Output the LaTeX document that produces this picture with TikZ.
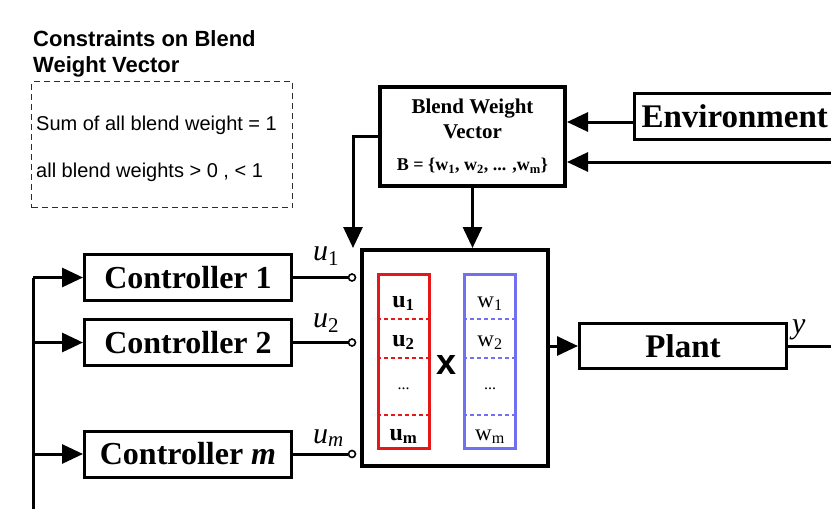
\documentclass[tikz,border=0pt]{standalone}
\usepackage{fontspec}
\setmainfont{Liberation Serif}
\setsansfont{Liberation Sans}
\usetikzlibrary{arrows.meta}
\definecolor{inkGrey}{RGB}{45,45,45}
\definecolor{colRed}{RGB}{228,24,24}
\definecolor{colBlue}{RGB}{112,112,240}
\newcommand{\setfs}[1]{\fontsize{#1}{#1}\selectfont}

\begin{document}
\begin{tikzpicture}[x=1pt, y=-1pt,
    blockbox/.style={draw, line width=3pt, inner sep=0pt, font=\bfseries},
    ctrlbox/.style={blockbox, minimum width=207pt, minimum height=46pt,
        font=\bfseries\setfs{32}},
    dashbox/.style={draw=inkGrey, line width=1.4pt, dash pattern=on 6pt off 4pt},
    colbox/.style={draw, line width=3pt, minimum width=51pt, minimum height=174pt},
    sepline/.style={line width=1.3pt, dash pattern=on 4pt off 3pt},
    wire/.style={line width=3pt},
    arr/.style={line width=3pt, -{Triangle[length=21pt,width=19pt]}},
    port/.style={circle, draw, line width=1.6pt, fill=white, inner sep=0pt, minimum size=7pt},
    ulabel/.style={anchor=base west, inner sep=0pt, font=\itshape\setfs{30}}]
\useasboundingbox (0,0) rectangle (831,509);
\clip (0,0) rectangle (831,509);

% Constraints note
\node[anchor=north west, inner sep=0pt, align=left,
    font=\sffamily\bfseries\fontsize{22}{26}\selectfont] (title) at (33,30)
    {Constraints on Blend\\Weight Vector};
\node[dashbox, anchor=north west, minimum width=261pt, minimum height=126pt] (limits) at (31,81) {};
\node[anchor=base west, inner sep=0pt, font=\sffamily\setfs{20}] (sumrule) at (36,130)
    {Sum of all blend weight = 1};
\node[anchor=base west, inner sep=0pt, font=\sffamily\setfs{20}] (rangerule) at (36,177)
    {all blend weights > 0 , < 1};

% Blend weight vector and environment
\node[blockbox, line width=4pt, minimum width=185pt, minimum height=99pt, align=center,
    font=\bfseries\fontsize{21}{25}\selectfont] (bwv) at (472.5,136.5)
    {Blend Weight\\Vector\\[7pt]
     {\fontsize{18}{20}\selectfont B = \{w\textsubscript{1}, w\textsubscript{2}, ... ,w\textsubscript{m}\}}};
\node[blockbox, anchor=west, minimum height=46pt, text width=215pt, inner xsep=7pt, align=left,
    font=\bfseries\setfs{33}] (env) at (633,116) {Environment};

% Controllers
\node[ctrlbox] (c1) at (188,277.5) {Controller 1};
\node[ctrlbox] (c2) at (188,342.5) {Controller 2};
\node[ctrlbox] (cm) at (188,454) {Controller \textit{m}};

% Mixer
\node[blockbox, line width=4pt, minimum width=186pt, minimum height=216pt] (mix) at (455,358) {};
\node[colbox, draw=colRed] (ucol) at (403.5,361.5) {};
\node[colbox, draw=colBlue] (wcol) at (490,361.5) {};
\foreach \sy in {319,358,415} {
    \draw[sepline, colRed] (ucol.west |- 0,\sy) -- (ucol.east |- 0,\sy);
    \draw[sepline, colBlue] (wcol.west |- 0,\sy) -- (wcol.east |- 0,\sy);
}
\foreach \sy/\ut/\wt in {307/1/1, 346/2/2, 440/m/m} {
    \node[anchor=base, inner sep=0pt, font=\bfseries\setfs{24}] at (403.5,\sy) {u\textsubscript{\ut}};
    \node[anchor=base, inner sep=0pt, font=\setfs{23}] at (490,\sy) {w\textsubscript{\wt}};
}
\node[anchor=base, inner sep=0pt, font=\setfs{16}] (udots) at (403.5,389) {...};
\node[anchor=base, inner sep=0pt, font=\setfs{16}] (wdots) at (490,389) {...};
\node[inner sep=0pt, font=\sffamily\bfseries\setfs{36}] (times) at (447,365) {x};

% Plant
\node[blockbox, minimum width=207pt, minimum height=45pt, font=\bfseries\setfs{33}] (plant)
    at (683,346) {Plant};

% Ports
\node[port] (p1) at (352,277.5) {};
\node[port] (p2) at (352,342.5) {};
\node[port] (pm) at (352,454) {};
\node[ulabel] at (313,260) {u\textsubscript{\upshape 1}};
\node[ulabel] at (313,327) {u\textsubscript{\upshape 2}};
\node[ulabel] at (313,443) {u\textsubscript{m}};

% Connectors
\coordinate (bustop) at (33,277.5);
\coordinate (busend) at (33,520);
\draw[wire] (bustop) -- (busend);
\foreach \c in {c1,c2,cm}
    \draw[arr] (bustop |- \c.west) -- (\c.west);
\draw[wire] (c1.east) -- (p1.west);
\draw[wire] (c2.east) -- (p2.west);
\draw[wire] (cm.east) -- (pm.west);

\coordinate (envout) at ([yshift=-6pt]env.west);
\draw[arr] (envout) -- (bwv.east |- envout);
\coordinate (fbin) at (840,162);
\draw[arr] (fbin) -- (bwv.east |- fbin);
\draw[arr] (bwv.west) -| ([xshift=-7pt]mix.north west);
\draw[arr] (bwv.south) -- (bwv.south |- mix.north);

\draw[arr] (mix.east |- plant.west) -- (plant.west);
\coordinate (yout) at (840,346);
\draw[wire] (plant.east) -- (yout);
\node[anchor=base west, inner sep=0pt, font=\itshape\setfs{30}] (ylabel) at (792,333) {y};

\end{tikzpicture}
\end{document}
